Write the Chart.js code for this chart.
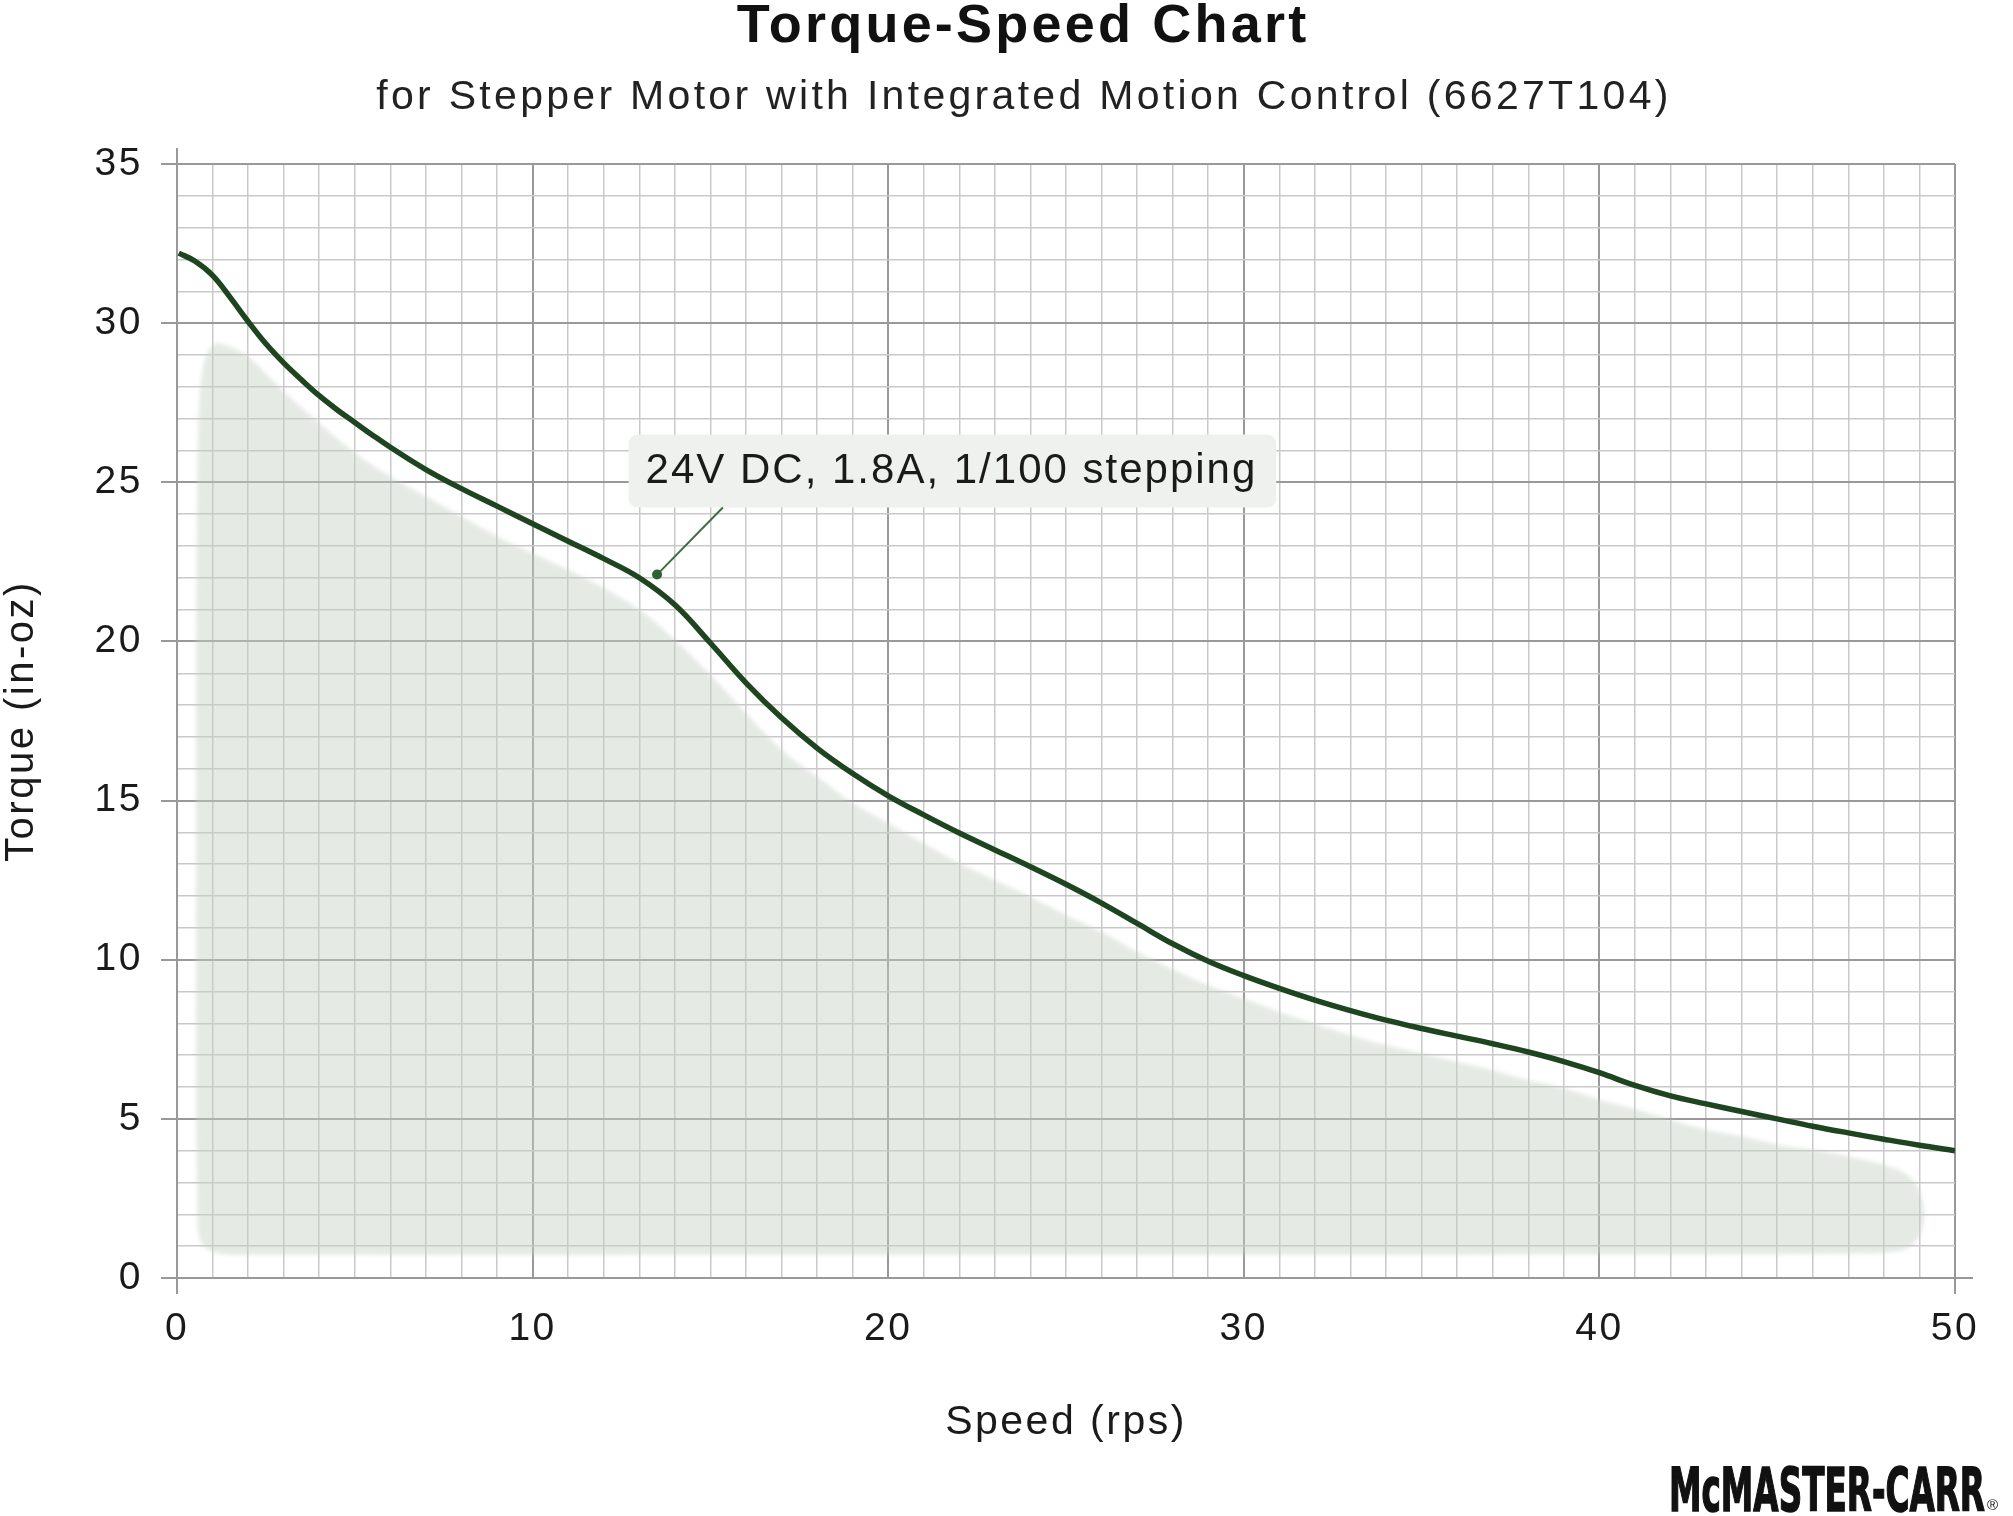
<!DOCTYPE html>
<html><head><meta charset="utf-8">
<script src="https://cdn.jsdelivr.net/npm/chart.js@4.4.1/dist/chart.umd.min.js"></script>
<style>html,body{margin:0;padding:0;background:#fff;}#wrap{width:2013px;height:1516px;position:relative;}</style>
</head><body><div id="wrap"><canvas id="c" width="2013" height="1516"></canvas></div>
<script>
// ---- data ----
const speed = [0.05,0.5,1,1.5,2,2.5,3,3.5,4,4.5,5,5.5,6,7,8,9,10,11,12,13,14,15,16,17,18,19,20,21,22,23,24,25,26,27,28,29,30,31,32,33,34,35,36,37,38,39,40,41,42,43,44,45,46,47,48,49,50];
const torque = [32.2,31.95,31.5,30.8,30.05,29.35,28.75,28.22,27.72,27.28,26.88,26.48,26.1,25.4,24.8,24.25,23.7,23.15,22.6,22.0,21.15,19.95,18.7,17.6,16.65,15.85,15.15,14.55,13.98,13.45,12.92,12.37,11.78,11.14,10.5,9.95,9.5,9.1,8.73,8.4,8.1,7.84,7.6,7.36,7.1,6.8,6.45,6.05,5.72,5.47,5.23,5.0,4.77,4.56,4.36,4.17,4.0];
const envSpeed = [0.58,0.54,0.53,0.54,0.57,0.63,0.75,0.92,1.15,1.5,2,3,4,5,6,7,8,9,10,11,12,13,14,15,16,17,18,19,20,21,22,23,24,25,26,27,28,29,30,31,32,33,34,35,36,37,38,39,40,41,42,43,44,45,46,47,48,48.6,48.95,49.12,49.08,48.85,48.4,47.5,40,20,2,1.2,0.8,0.62];
const envTorque = [1.6,5,12,20,25,27.6,28.7,29.2,29.37,29.25,28.95,27.85,26.86,25.92,25.18,24.55,23.93,23.3,22.77,22.25,21.68,21.0,20.05,18.95,17.75,16.6,15.75,14.92,14.29,13.66,13.03,12.5,11.98,11.4,10.88,10.24,9.7,9.2,8.78,8.36,7.99,7.63,7.31,7.05,6.79,6.53,6.22,5.96,5.6,5.3,4.97,4.66,4.45,4.19,4.03,3.82,3.56,3.28,2.85,2.2,1.55,1.08,0.85,0.77,0.74,0.73,0.73,0.76,0.95,1.25];
const xTickLabels = ['0','10','20','30','40','50'];
const yTickLabels = ['0','5','10','15','20','25','30','35'];
const titleText = 'Torque-Speed Chart';
const subtitleText = 'for Stepper Motor with Integrated Motion Control (6627T104)';
const xAxisTitle = 'Speed (rps)';
const yAxisTitle = 'Torque (in-oz)';
const annoText = '24V DC, 1.8A, 1/100 stepping';
const annoPoint = [13.5, 22.1];
const annoBox = [12.7, 26.5];
const annoLeaderX = 15.35;
const logoText = 'McMASTER-CARR';

const FONT = '"Liberation Sans", Arial, Helvetica, sans-serif';
Chart.defaults.font.family = FONT;

const mainData = speed.map((s, i) => ({x: s, y: torque[i]}));
const envData = envSpeed.map((s, i) => ({x: s, y: envTorque[i]}));

const MAJOR = '#999999', MINOR = '#c9c9c9';

const spacingPlugin = {
  id: 'spacing',
  beforeLayout(chart) { chart.ctx.letterSpacing = '2.5px'; },
  beforeDraw(chart) { chart.ctx.letterSpacing = '2.5px'; },
  beforeDatasetsDraw(chart) { chart.ctx.filter = 'blur(2px)'; },
  beforeDatasetDraw(chart) { chart.ctx.filter = 'none'; }
};

const extrasPlugin = {
  id: 'extras',
  afterDraw(chart) {
    const ctx = chart.ctx;
    const xs = chart.scales.x, ys = chart.scales.y;
    ctx.save();
    ctx.filter = 'none';
    // axis line extensions
    const x0 = xs.getPixelForValue(xs.min), x1 = xs.getPixelForValue(xs.max);
    const y0 = ys.getPixelForValue(ys.min), y1 = ys.getPixelForValue(ys.max);
    ctx.strokeStyle = MAJOR; ctx.lineWidth = 2;
    ctx.beginPath();
    ctx.moveTo(x0, y1 - 16); ctx.lineTo(x0, y1);
    ctx.moveTo(x1, y0); ctx.lineTo(x1 + 18, y0);
    ctx.stroke();

    // annotation
    const px = xs.getPixelForValue(annoPoint[0]), py = ys.getPixelForValue(annoPoint[1]);
    const bx = xs.getPixelForValue(annoBox[0]), by = ys.getPixelForValue(annoBox[1]);
    ctx.font = '42px ' + FONT; ctx.letterSpacing = '2px';
    const tw = ctx.measureText(annoText).width;
    const bw = tw + 36, bh = 73;
    ctx.fillStyle = '#eef1ed';
    ctx.beginPath(); ctx.roundRect(bx, by, bw, bh, 9); ctx.fill();
    const lx = xs.getPixelForValue(annoLeaderX);
    ctx.strokeStyle = '#3d6d3d'; ctx.lineWidth = 2;
    ctx.beginPath(); ctx.moveTo(lx, by + bh); ctx.lineTo(px, py); ctx.stroke();
    ctx.fillStyle = '#2f6232';
    ctx.beginPath(); ctx.arc(px, py, 5, 0, Math.PI * 2); ctx.fill();
    ctx.fillStyle = '#1a1a1a'; ctx.textAlign = 'left'; ctx.textBaseline = 'alphabetic';
    ctx.fillText(annoText, bx + 17, by + 48);

    // titles
    ctx.textAlign = 'center';
    ctx.fillStyle = '#111';
    ctx.letterSpacing = '3.2px'; ctx.font = 'bold 54px ' + FONT;
    ctx.fillText(titleText, 1023, 42);
    ctx.fillStyle = '#222';
    ctx.letterSpacing = '3.3px'; ctx.font = '41px ' + FONT;
    ctx.fillText(subtitleText, 1024, 109);

    // logo
    ctx.letterSpacing = '0px';
    ctx.textAlign = 'left';
    ctx.font = 'bold 60px "Liberation Sans Narrow", "DejaVu Sans Condensed", "Liberation Sans", sans-serif';
    const lw = ctx.measureText(logoText).width;
    ctx.save();
    ctx.translate(1669, 1511); ctx.scale(316 / lw, 1);
    ctx.fillStyle = '#111';
    ctx.strokeStyle = '#111'; ctx.lineWidth = 1.5;
    ctx.fillText(logoText, 0, 0);
    ctx.strokeText(logoText, 0, 0);
    ctx.restore();
    ctx.fillStyle = '#111';
    ctx.font = '15px ' + FONT;
    ctx.fillText('\u00AE', 1987, 1510);
    ctx.restore();
  }
};

new Chart(document.getElementById('c'), {
  type: 'scatter',
  data: {
    datasets: [
      {
        label: yAxisTitle,
        data: mainData,
        showLine: true,
        borderColor: '#1e4520',
        borderWidth: 5.5,
        pointRadius: 0,
        tension: 0.4,
        fill: false,
        order: 1
      },
      {
        label: 'envelope',
        data: envData,
        showLine: true,
        borderWidth: 0,
        borderColor: 'rgba(0,0,0,0)',
        backgroundColor: 'rgba(197,208,197,0.45)',
        pointRadius: 0,
        tension: 0.35,
        fill: 'shape',
        order: 2
      }
    ]
  },
  options: {
    responsive: false,
    animation: false,
    devicePixelRatio: 1,
    layout: { padding: { top: 164, right: 58, bottom: 0, left: 0 } },
    plugins: { legend: { display: false }, tooltip: { enabled: false }, title: { display: false } },
    scales: {
      x: {
        type: 'linear', min: 0, max: 50,
        afterFit(s) { s.height = 238; },
        ticks: {
          stepSize: 1, autoSkip: false, maxRotation: 0, maxTicksLimit: 100,
          padding: 12, color: '#1a1a1a', font: { size: 39 },
          callback: v => xTickLabels.includes(String(v)) ? String(v) : ''
        },
        grid: {
          color: c => (c.tick && c.tick.value % 10 === 0) ? MAJOR : MINOR,
          lineWidth: c => (c.tick && c.tick.value % 10 === 0) ? 2 : 1.5,
          tickLength: 16,
          tickColor: c => (c.tick && (c.tick.value === 0 || c.tick.value === 50)) ? MAJOR : 'rgba(0,0,0,0)',
          tickWidth: 2
        },
        border: { display: true, color: MAJOR, width: 2 },
        title: { display: true, text: xAxisTitle, color: '#1a1a1a', font: { size: 41 }, padding: { top: 0, bottom: 69 } }
      },
      y: {
        type: 'linear', min: 0, max: 35,
        afterFit(s) { s.width = 177; },
        ticks: {
          stepSize: 1, autoSkip: false, maxTicksLimit: 100,
          padding: 18, color: '#1a1a1a', font: { size: 39 },
          callback: v => yTickLabels.includes(String(v)) ? String(v) : ''
        },
        grid: {
          color: c => (c.tick && c.tick.value % 5 === 0) ? MAJOR : MINOR,
          lineWidth: c => (c.tick && c.tick.value % 5 === 0) ? 2 : 1.5,
          tickLength: 16,
          tickColor: c => (c.tick && c.tick.value % 5 === 0) ? MAJOR : 'rgba(0,0,0,0)',
          tickWidth: 2
        },
        border: { display: true, color: MAJOR, width: 2 },
        title: { display: true, text: yAxisTitle, color: '#1a1a1a', font: { size: 40, lineHeight: 1 }, padding: { top: 2, bottom: 0 } }
      }
    }
  },
  plugins: [spacingPlugin, extrasPlugin]
});
</script></body></html>
